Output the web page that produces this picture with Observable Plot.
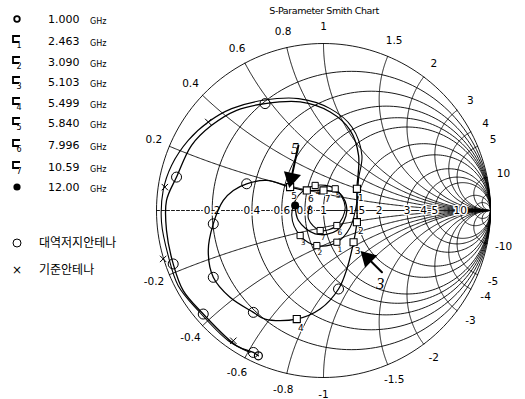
<!DOCTYPE html>
<html><head><meta charset="utf-8">
<script src="https://cdn.jsdelivr.net/npm/d3@7"></script>
<script src="https://cdn.jsdelivr.net/npm/@observablehq/plot@0.6"></script>
<style>
body{margin:0;background:#fff;}
#wrap{position:relative;width:525px;height:399px;overflow:hidden;}
#chart,#legend{position:absolute;left:0;top:0;}
.title{position:absolute;top:5px;left:244px;width:160px;text-align:center;font:9.5px "DejaVu Sans",sans-serif;letter-spacing:-0.4px;}
</style></head><body>
<div id="wrap"><div id="chart"></div><svg id="legend" width="160" height="300"></svg><div class="title">S-Parameter Smith Chart</div></div>
<script>
// Marker frequencies (GHz) shown in the legend
const markerNames = ["o", "1", "2", "3", "4", "5", "6", "7", "●"];
const markerFreqs = ["1.000", "2.463", "3.090", "5.103", "5.499", "5.840", "7.996", "10.59", "12.00"];
const seriesNames = ["대역저지안테나", "기준안테나"];

// Grid values
const resistances = [0.2, 0.4, 0.6, 0.8, 1, 1.5, 2, 3, 4, 5, 10, 20];
const reactances = [0.2, 0.4, 0.6, 0.8, 1, 1.5, 2, 3, 4, 5, 10, 20];
const resistanceLabels = [0.2, 0.4, 0.6, 0.8, 1, 1.5, 2, 3, 4, 5, 10];
const reactanceLabels = [0.2, 0.4, 0.6, 0.8, 1, 1.5, 2, 3, 4, 5, 10, -0.2, -0.4, -0.6, -0.8, -1, -1.5, -2, -3, -4, -5, -10];

// S11 of the band-stop antenna (real, imaginary), 1 → 12 GHz
const bandStopRe = [-0.39,-0.42,-0.52,-0.72,-0.84,-0.90,-0.94,-0.94,-0.88,-0.79,-0.67,-0.52,-0.35,-0.14,0.04,0.16,0.21,0.20,0.20,0.20,0.18,0.14,0.09,-0.02,-0.16,-0.35,-0.42,-0.56,-0.66,-0.69,-0.66,-0.60,-0.54,-0.46,-0.34,-0.20,-0.10,0.00,0.10,0.14,0.08,-0.05,-0.15,-0.17];
const bandStopIm = [-0.87,-0.85,-0.81,-0.62,-0.48,-0.32,-0.12,0.06,0.20,0.39,0.51,0.60,0.64,0.65,0.59,0.48,0.33,0.13,0.04,-0.07,-0.19,-0.35,-0.47,-0.59,-0.65,-0.65,-0.61,-0.52,-0.40,-0.24,-0.08,0.06,0.12,0.16,0.18,0.14,0.12,0.12,0.10,0.00,-0.12,-0.14,-0.06,0.03];

// S11 of the reference antenna
const referenceRe = [-0.44,-0.57,-0.75,-0.87,-0.93,-0.97,-0.96,-0.91,-0.81,-0.69,-0.55,-0.36,-0.15,0.04,0.17,0.23,0.21,0.20,0.16,0.08,-0.04,-0.14,-0.19,-0.15,-0.05,0.07,0.13,0.08,-0.02,-0.09,-0.08];
const referenceIm = [-0.85,-0.78,-0.60,-0.45,-0.27,-0.07,0.12,0.27,0.42,0.53,0.61,0.66,0.67,0.61,0.50,0.33,0.19,0.05,-0.10,-0.19,-0.21,-0.15,-0.03,0.09,0.15,0.13,0.02,-0.09,-0.12,-0.05,0.03];

// Sampled points marked on each trace
const bandStopDotRe = [-0.42,-0.72,-0.90,-0.88,-0.35,0.09,-0.42,-0.66,-0.66,-0.46];
const bandStopDotIm = [-0.85,-0.62,-0.32,0.20,0.64,-0.47,-0.61,-0.40,-0.08,0.16];
const referenceCrossRe = [-0.69,-0.95,-0.96,-0.54];
const referenceCrossIm = [0.53,0.14,-0.29,-0.78];

// Frequency markers 1–7 on each trace
const bandStopMarkRe = [0.20,0.20,0.18,-0.16,-0.20,-0.10,0.00];
const bandStopMarkIm = [0.13,-0.07,-0.19,-0.65,0.14,0.12,0.12];
const referenceMarkRe = [0.08,-0.04,-0.14,-0.05,0.07,0.08,-0.02];
const referenceMarkIm = [-0.19,-0.21,-0.15,0.15,0.13,-0.09,-0.12];

// Hand-drawn call-outs
const calloutLabels = ["5", "3"];
const calloutFromRe = [-0.15, 0.35], calloutFromIm = [0.39, -0.37];
const calloutToRe = [-0.20, 0.24], calloutToIm = [0.16, -0.26];
const calloutTextRe = [-0.17, 0.34], calloutTextIm = [0.37, -0.44];

// Γ-plane geometry of the constant-r circles and constant-x arcs
const grid = [];
grid.push(...d3.range(0, 361, 2).map(a => ({id: "r0", re: Math.cos(a * Math.PI / 180), im: Math.sin(a * Math.PI / 180)})));
for (const r of resistances) {
  const c = r / (r + 1), rad = 1 / (r + 1);
  for (let a = 0; a <= 360; a += 2) grid.push({id: "r" + r, re: c + rad * Math.cos(a * Math.PI / 180), im: rad * Math.sin(a * Math.PI / 180)});
}
function gammaOf(r, x) {
  const d = (r + 1) ** 2 + x * x;
  return {re: (r * r + x * x - 1) / d, im: 2 * x / d};
}
for (const x0 of reactances) for (const x of [x0, -x0]) {
  for (let t = 0; t < 1; t += 0.004) grid.push({id: "x" + x, ...gammaOf(t / (1 - t), x)});
  grid.push({id: "x" + x, re: 1, im: 0});
}
const rLabels = resistanceLabels.map(r => ({re: (r - 1) / (r + 1), im: 0, text: String(r)}));
const xLabels = reactanceLabels.map(x => {
  const g = gammaOf(0, x);
  return {re: g.re * 1.1, im: g.im * 1.1, text: String(x)};
});

const zip = (a, b) => a.map((v, i) => ({re: v, im: b[i], n: String(i + 1)}));
const bandStop = zip(bandStopRe, bandStopIm);
const reference = zip(referenceRe, referenceIm);
const bsMarks = zip(bandStopMarkRe, bandStopMarkIm);
const refMarks = zip(referenceMarkRe, referenceMarkIm);
const callouts = calloutLabels.map((t, i) => {
  const dx = calloutToRe[i] - calloutFromRe[i], dy = calloutToIm[i] - calloutFromIm[i];
  const len = Math.hypot(dx, dy);
  return {t, x1: calloutFromRe[i], y1: calloutFromIm[i], x2: calloutToRe[i], y2: calloutToIm[i],
    tx: calloutTextRe[i], ty: calloutTextIm[i],
    // filled head sits just behind the tip, pointing along the shaft
    hx: calloutToRe[i] - dx / len * 0.035, hy: calloutToIm[i] - dy / len * 0.035,
    angle: 90 - Math.atan2(dy, dx) * 180 / Math.PI};
});

const font = "DejaVu Sans, sans-serif";
const chart = Plot.plot({
  width: 525, height: 399,
  marginLeft: 156, marginRight: 35, marginTop: 43, marginBottom: 22,
  x: {domain: [-1, 1], axis: null},
  y: {domain: [-1, 1], axis: null},
  style: {background: "white", fontFamily: font},
  marks: [
    Plot.line(grid, {x: "re", y: "im", z: "id", stroke: "black", strokeWidth: 0.9}),
    Plot.line([{re: -1, im: 0}, {re: 0, im: 0}], {x: "re", y: "im", stroke: "black", strokeWidth: 0.9, strokeDasharray: "3,2"}),
    Plot.line([{re: 0, im: 0}, {re: 1, im: 0}], {x: "re", y: "im", stroke: "black", strokeWidth: 0.9}),
    Plot.text(rLabels, {x: "re", y: "im", text: "text", fontSize: 10.5, fill: "black", stroke: "white", strokeWidth: 3, fontFamily: font}),
    Plot.text(xLabels, {x: "re", y: "im", text: "text", fontSize: 10.5, fill: "black", fontFamily: font}),
    Plot.line(reference, {x: "re", y: "im", curve: "catmull-rom", stroke: "black", strokeWidth: 1.1}),
    Plot.line(bandStop, {x: "re", y: "im", curve: "catmull-rom", stroke: "black", strokeWidth: 1.3}),
    Plot.dot(zip(bandStopDotRe, bandStopDotIm), {x: "re", y: "im", r: 5, stroke: "black", fill: "none", strokeWidth: 1}),
    Plot.dot(zip(referenceCrossRe, referenceCrossIm), {x: "re", y: "im", r: 3, symbol: "times", stroke: "black", strokeWidth: 1}),
    Plot.dot([bandStop[0]], {x: "re", y: "im", r: 4, stroke: "black", fill: "none", strokeWidth: 1.2}),
    Plot.dot([bandStop[bandStop.length - 1]], {x: "re", y: "im", r: 4, fill: "black"}),
    Plot.dot(refMarks, {x: "re", y: "im", r: 3.5, symbol: "square", stroke: "black", fill: "white", strokeWidth: 1}),
    Plot.text(refMarks, {x: "re", y: "im", text: "n", dx: 3, dy: 7, fontSize: 7.5, fontFamily: font}),
    Plot.dot(bsMarks, {x: "re", y: "im", r: 4, symbol: "square", stroke: "black", fill: "white", strokeWidth: 1.1}),
    Plot.text(bsMarks, {x: "re", y: "im", text: "n", dx: 4, dy: 9, fontSize: 9, fontFamily: font, stroke: "white", strokeWidth: 2, fill: "black"}),
    Plot.arrow(callouts, {x1: "x1", y1: "y1", x2: "x2", y2: "y2", stroke: "black", strokeWidth: 2, headLength: 0}),
    Plot.dot(callouts, {x: "hx", y: "hy", symbol: "triangle", r: 6.5, fill: "black", rotate: "angle"}),
    Plot.text(callouts, {x: "tx", y: "ty", text: "t", fontSize: 16, fontStyle: "italic", fontFamily: "Liberation Serif, serif", fill: "black"})
  ]
});
document.getElementById("chart").append(chart);

// Legend: frequency markers and series
const lg = d3.select("#legend");
const rowY = [19, 41, 62, 82, 103, 123, 145, 167, 187];
markerNames.forEach((m, i) => {
  const y = rowY[i];
  if (m === "o") lg.append("circle").attr("cx", 17).attr("cy", y).attr("r", 2.8).attr("fill", "none").attr("stroke", "black").attr("stroke-width", 1.8);
  else if (m === "●") lg.append("circle").attr("cx", 17).attr("cy", y).attr("r", 3.6).attr("fill", "black");
  else {
    lg.append("path").attr("d", `M20,${y - 5}H13V${y + 1}H19`).attr("fill", "none").attr("stroke", "black").attr("stroke-width", 1.8);
    lg.append("text").attr("x", 19).attr("y", y + 7).attr("font-size", 8).attr("font-family", font).attr("text-anchor", "middle").text(m);
  }
  lg.append("text").attr("x", 48).attr("y", y + 4).attr("font-size", 11).attr("font-family", font).text(markerFreqs[i]);
  lg.append("text").attr("x", 90).attr("y", y + 5).attr("font-size", 8).attr("font-family", font).text("GHz");
});
lg.append("circle").attr("cx", 17).attr("cy", 243).attr("r", 4).attr("fill", "none").attr("stroke", "black");
lg.append("text").attr("x", 17).attr("y", 274).attr("font-size", 12).attr("text-anchor", "middle").attr("font-family", font).text("×");
seriesNames.forEach((s, i) => {
  lg.append("text").attr("x", 39).attr("y", 247 + i * 27).attr("font-size", 12).attr("font-family", "Noto Sans CJK KR, sans-serif").text(s);
});
</script>
</body></html>
